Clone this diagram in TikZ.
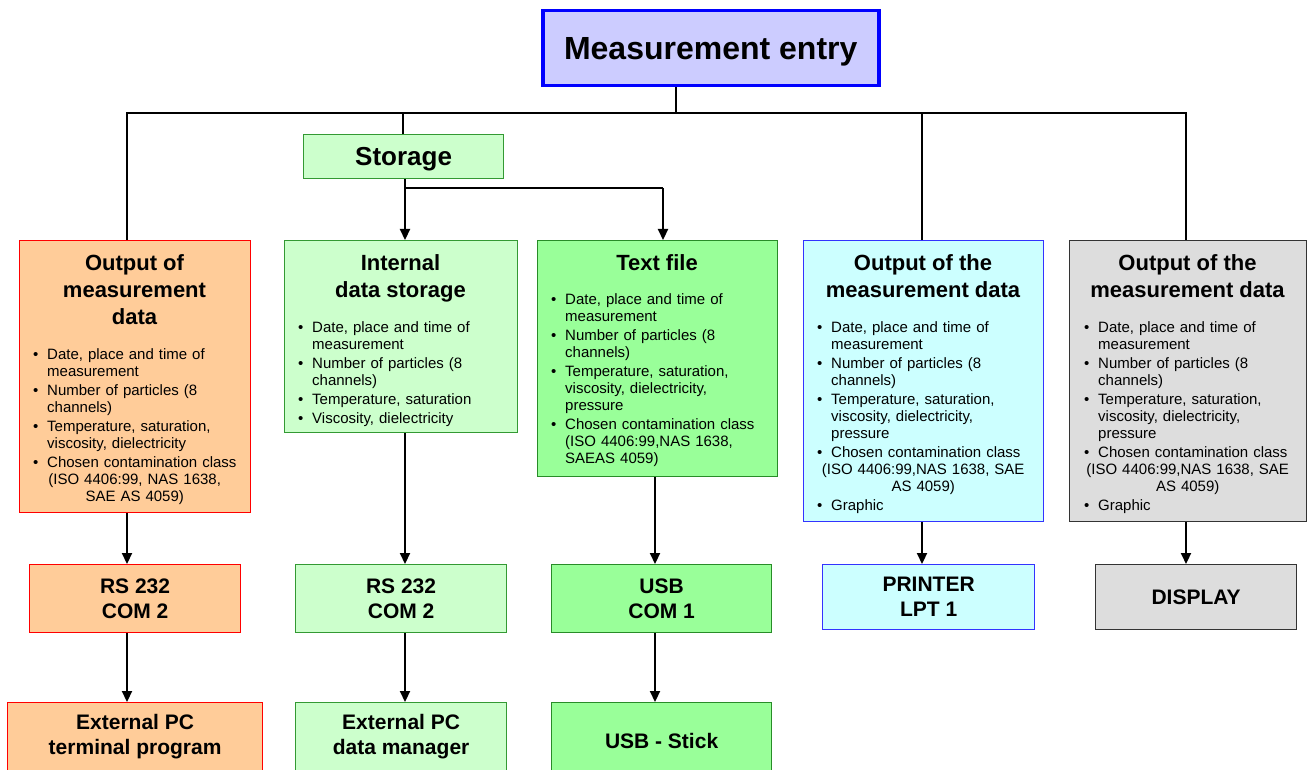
\documentclass[tikz,border=0pt]{standalone}
\usepackage{fontspec}
\setmainfont{Liberation Sans}
\usepackage{tikz}
\usetikzlibrary{arrows.meta}
\definecolor{Entry}{RGB}{204, 204, 255}
\definecolor{EntryLine}{RGB}{0, 0, 255}
\definecolor{Serial}{RGB}{255, 204, 153}
\definecolor{SerialLine}{RGB}{255, 0, 0}
\definecolor{Store}{RGB}{204, 255, 204}
\definecolor{StoreLine}{RGB}{51, 153, 51}
\definecolor{File}{RGB}{153, 255, 153}
\definecolor{FileLine}{RGB}{40, 140, 40}
\definecolor{Printer}{RGB}{204, 255, 255}
\definecolor{PrinterLine}{RGB}{51, 51, 255}
\definecolor{Screen}{RGB}{221, 221, 221}
\definecolor{ScreenLine}{RGB}{51, 51, 51}

% bullet line, continuation line, centred line
\newcommand{\itm}[1]{\makebox[14pt][l]{\textbullet}\mbox{#1}}
\newcommand{\cnt}[1]{\hspace*{14pt}\mbox{#1}}
\newcommand{\ctr}[1]{\makebox[\linewidth]{#1}}

\begin{document}
\begin{tikzpicture}[x=1pt, y=-1pt,
    box/.style={draw, line width=1.2pt, inner sep=0pt, anchor=north west},
    head/.style={font=\fontsize{22}{27}\selectfont\bfseries, align=center, inner sep=0pt, anchor=north},
    list/.style={font=\fontsize{15}{17}\selectfont, align=left, inner sep=0pt, anchor=north west},
    port/.style={box, font=\fontsize{21}{25}\selectfont\bfseries, align=center},
    wire/.style={line width=2.2pt},
    arr/.style={wire, -{Triangle[length=11pt, width=10pt]}}]
    \useasboundingbox (0,0) rectangle (1307,770);

    \node[box, fill = Entry, draw = EntryLine, line width=3.5pt, minimum width=336pt, minimum height=75pt, text depth=0pt, font=\fontsize{32}{38}\selectfont\bfseries] (entry) at (541,9) {Measurement entry};
    \node[box, fill = Store, draw = StoreLine, minimum width=200pt, minimum height=44pt, text depth=0pt, font=\fontsize{26}{30}\selectfont\bfseries] (storage) at (303,134) {Storage};

    \node[box, fill = Serial, draw = SerialLine, minimum width=231pt, minimum height=272pt] (serial) at (19,240) {};
    \node[box, fill = Store, draw = StoreLine, minimum width=233pt, minimum height=192pt] (internal) at (284,240) {};
    \node[box, fill = File, draw = FileLine, minimum width=240pt, minimum height=236pt] (textfile) at (537,240) {};
    \node[box, fill = Printer, draw = PrinterLine, minimum width=240pt, minimum height=281pt] (printout) at (803,240) {};
    \node[box, fill = Screen, draw = ScreenLine, minimum width=237pt, minimum height=281pt] (screen) at (1069,240) {};

    \node[head] (serialhead) at (134.5,254) {Output of\\measurement\\data};
    \node[head] (internalhead) at (400.5,254) {Internal\\data storage};
    \node[head] (textfilehead) at (657,254) {Text file};
    \node[head] (printouthead) at (923,254) {Output of the\\measurement data};
    \node[head] (screenhead) at (1187.5,254) {Output of the\\measurement data};

    \node[list, text width=203pt] (seriallist) at (33,348.5) {%
        \itm{Date, place and time of}\\
        \cnt{measurement}\\[2pt]
        \itm{Number of particles (8}\\
        \cnt{channels)}\\[2pt]
        \itm{Temperature, saturation,}\\
        \cnt{viscosity, dielectricity}\\[2pt]
        \itm{Chosen contamination class}\\
        \ctr{(ISO 4406:99, NAS 1638,}\\
        \ctr{SAE AS 4059)}};
    \node[list, text width=205pt] (internallist) at (298,321.5) {%
        \itm{Date, place and time of}\\
        \cnt{measurement}\\[2pt]
        \itm{Number of particles (8}\\
        \cnt{channels)}\\[2pt]
        \itm{Temperature, saturation}\\[2pt]
        \itm{Viscosity, dielectricity}};
    \node[list, text width=212pt] (textfilelist) at (551,293.5) {%
        \itm{Date, place and time of}\\
        \cnt{measurement}\\[2pt]
        \itm{Number of particles (8}\\
        \cnt{channels)}\\[2pt]
        \itm{Temperature, saturation,}\\
        \cnt{viscosity, dielectricity,}\\
        \cnt{pressure}\\[2pt]
        \itm{Chosen contamination class}\\
        \cnt{(ISO 4406:99,NAS 1638,}\\
        \cnt{SAEAS 4059)}};
    \foreach \name/\x/\w in {printoutlist/817/212, screenlist/1084/207}
    \node[list, text width=\w pt] (\name) at (\x,321.5) {%
        \itm{Date, place and time of}\\
        \cnt{measurement}\\[2pt]
        \itm{Number of particles (8}\\
        \cnt{channels)}\\[2pt]
        \itm{Temperature, saturation,}\\
        \cnt{viscosity, dielectricity,}\\
        \cnt{pressure}\\[2pt]
        \itm{Chosen contamination class}\\
        \ctr{(ISO 4406:99,NAS 1638, SAE}\\
        \ctr{AS 4059)}\\[2pt]
        \itm{Graphic}};

    \node[port, fill = Serial, draw = SerialLine, minimum width=211pt, minimum height=68pt] (rsA) at (29,564) {RS 232\\COM 2};
    \node[port, fill = Store, draw = StoreLine, minimum width=211pt, minimum height=68pt] (rsB) at (295,564) {RS 232\\COM 2};
    \node[port, fill = File, draw = FileLine, minimum width=220pt, minimum height=68pt] (usb) at (551,564) {USB\\COM 1};
    \node[port, fill = Printer, draw = PrinterLine, minimum width=212pt, minimum height=65pt] (lpt) at (822,564) {PRINTER\\LPT 1};
    \node[port, fill = Screen, draw = ScreenLine, minimum width=201pt, minimum height=65pt] (display) at (1095,564) {DISPLAY};

    \node[port, fill = Serial, draw = SerialLine, minimum width=255pt, minimum height=68pt] (pcA) at (7,702) {External PC\\terminal program};
    \node[port, fill = Store, draw = StoreLine, minimum width=211pt, minimum height=68pt] (pcB) at (295,702) {External PC\\data manager};
    \node[port, fill = File, draw = FileLine, minimum width=220pt, minimum height=76pt] (stick) at (551,702) {USB - Stick};

    \coordinate (hub) at (676,113);
    \coordinate (tapA) at (127,113);
    \coordinate (tapB) at (403,113);
    \coordinate (tapD) at (922,113);
    \coordinate (tapE) at (1186,113);
    \coordinate (fork) at (405,188);
    \coordinate (forkB) at (663,188);
    \coordinate (colC) at (655,0);

    \draw[wire] (entry.south -| hub) -- (hub);
    \draw[wire] (tapA |- serial.north) -- (tapA) -- (tapE) -- (tapE |- screen.north);
    \draw[wire] (tapB) -- (tapB |- storage.north);
    \draw[wire] (tapD) -- (tapD |- printout.north);
    \draw[wire] (storage.south -| fork) -- (fork) -- (forkB);
    \draw[arr] (fork) -- (fork |- internal.north);
    \draw[arr] (forkB) -- (forkB |- textfile.north);

    \foreach \x/\a/\b in {tapA/serial/rsA, fork/internal/rsB, colC/textfile/usb, tapD/printout/lpt, tapE/screen/display, tapA/rsA/pcA, fork/rsB/pcB, colC/usb/stick}
    \draw[arr] (\x |- \a.south) -- (\x |- \b.north);
\end{tikzpicture}
\end{document}
